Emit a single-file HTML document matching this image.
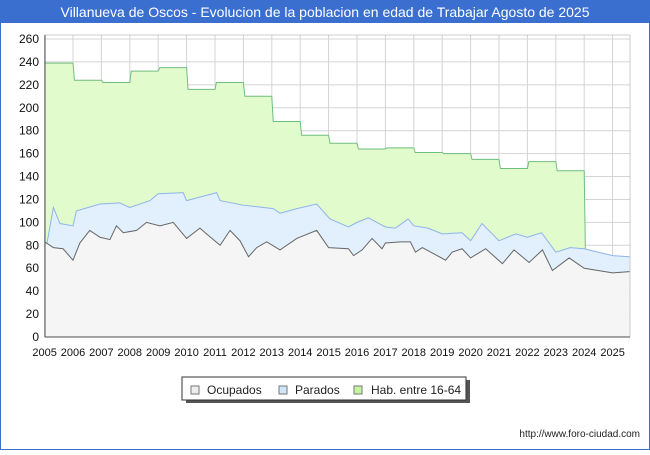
<!DOCTYPE html>
<html><head><meta charset="utf-8"><style>
body{margin:0;width:650px;height:450px;background:#fff;font-family:"Liberation Sans","DejaVu Sans",sans-serif;overflow:hidden}
</style></head><body>
<svg width="650" height="450" xmlns="http://www.w3.org/2000/svg" id="chart">
<rect x="0" y="0" width="650" height="450" fill="#fff" stroke="#3a6fd0" stroke-width="2"/>
<rect x="0" y="0" width="650" height="23" fill="#3a6fd0"/>
<text x="325" y="17" text-anchor="middle" font-size="14" fill="#fff">Villanueva de Oscos - Evolucion de la poblacion en edad de Trabajar Agosto de 2025</text>
<g id="grid"></g>
<g id="areas"></g>
<g id="axes"></g>
<g>
<rect x="186" y="380" width="284" height="23" fill="#555"/>
<rect x="182" y="377" width="284" height="23" fill="#fff" stroke="#333"/>
<rect x="191" y="386" width="8" height="8" fill="#eee" stroke="#777"/>
<text x="207" y="394" font-size="12" fill="#222">Ocupados</text>
<rect x="279" y="386" width="8" height="8" fill="#cfe5fb" stroke="#777"/>
<text x="295" y="394" font-size="12" fill="#222">Parados</text>
<rect x="354" y="386" width="8" height="8" fill="#c6f5a0" stroke="#777"/>
<text x="371" y="394" font-size="12" fill="#222">Hab. entre 16-64</text>
</g>
<text x="640" y="437" text-anchor="end" font-size="10" fill="#222">http://www.foro-ciudad.com</text>
</svg>
<script>
const habYears=[2005,2006,2007,2008,2009,2010,2011,2012,2013,2014,2015,2016,2017,2018,2019,2020,2021,2022,2023];
const habValues=[239,224,222,232,235,216,222,210,188,176,169,164,165,161,160,155,147,153,145];
const paradosT=[2005.0,2005.07,2005.31,2005.54,2006.0,2006.12,2006.95,2007.65,2008.0,2008.71,2009.0,2009.88,2010.0,2011.06,2011.18,2012.0,2013.05,2013.29,2013.88,2014.58,2015.05,2015.7,2016.0,2016.4,2017.0,2017.35,2017.8,2018.0,2018.5,2019.0,2019.7,2020.0,2020.4,2021.0,2021.6,2022.0,2022.5,2023.0,2023.5,2024.0,2025.0,2025.6];
const paradosV=[83,80,113,99,97,110,116,117,113,119,125,126,119,126,119,115,112,108,112,116,103,96,100,104,96,95,103,97,95,90,91,84,99,84,90,87,91,74,78,77,71,70];
const ocupT=[2005.0,2005.31,2005.65,2006.0,2006.24,2006.59,2006.95,2007.3,2007.53,2007.77,2008.24,2008.59,2009.06,2009.53,2010.0,2010.47,2010.7,2011.18,2011.53,2011.88,2012.18,2012.47,2012.82,2013.29,2013.88,2014.58,2015.0,2015.7,2015.88,2016.18,2016.53,2016.88,2017.0,2017.53,2017.88,2018.06,2018.3,2019.12,2019.35,2019.7,2020.0,2020.53,2021.12,2021.53,2022.06,2022.53,2022.88,2023.47,2024.0,2025.0,2025.6];
const ocupV=[83,78,77,67,82,93,87,85,97,91,93,100,97,100,86,95,90,80,93,84,70,78,83,76,86,93,78,77,71,76,86,77,82,83,83,74,78,67,74,77,69,77,64,76,65,76,58,69,60,56,57];
const yTicks=[0,20,40,60,80,100,120,140,160,180,200,220,240,260];
const xTicks=[2005,2006,2007,2008,2009,2010,2011,2012,2013,2014,2015,2016,2017,2018,2019,2020,2021,2022,2023,2024,2025];
const NS='http://www.w3.org/2000/svg';
const X0=45,X1=630,Y0=337,YT=35;
const x=t=>73+(t-2006)*28.4;
const y=v=>Y0-v*298/260;
function mk(tag,attrs,parent){const e=document.createElementNS(NS,tag);for(const k in attrs)e.setAttribute(k,attrs[k]);document.getElementById(parent).appendChild(e);return e;}
mk('rect',{x:X0,y:YT,width:X1-X0,height:Y0-YT,fill:'#fff'},'grid');
yTicks.forEach(v=>{const l=mk('line',{x1:X0,x2:X1,y1:y(v),y2:y(v),stroke:'#d4d4d4'},'grid');


const t=mk('text',{x:X0-6,y:y(v)+4,'text-anchor':'end','font-size':12,fill:'#111'},'axes');t.textContent=v;

});
xTicks.forEach(yr=>{const l=mk('line',{x1:x(yr),x2:x(yr),y1:YT,y2:Y0,stroke:'#d4d4d4'},'grid');


const t=mk('text',{x:x(yr),y:Y0+19,'text-anchor':'middle','font-size':11,fill:'#111'},'axes');t.textContent=yr;

});
// hab area
let hp=[];habYears.forEach((yr,i)=>{const s=i==0?yr:yr+0.05;hp.push([x(s),y(habValues[i])]);hp.push([x(yr+1),y(habValues[i])]);});
let hd='M'+x(habYears[0])+','+Y0+' '+hp.map(p=>'L'+p[0]+','+p[1]).join(' ')+' L'+x(2024.04)+','+Y0+' Z';
const ha=mk('path',{d:hd,fill:'#e2fbcc',stroke:'none'},'areas');


const hl=mk('path',{d:'M'+hp.map(p=>p[0]+','+p[1]).join(' L')+' L'+x(2024.04)+','+y(paradosV[paradosV.length-3]),fill:'none',stroke:'#6fbf7f','stroke-width':1},'areas');


function area(T,V,fill,stroke,name){const pts=T.map((t,i)=>x(t)+','+y(V[i]));
const a=mk('path',{d:'M'+x(T[0])+','+Y0+' L'+pts.join(' L')+' L'+x(T[T.length-1])+','+Y0+' Z',fill:fill},'areas');


const l=mk('polyline',{points:pts.join(' '),fill:'none',stroke:stroke,'stroke-width':1},'areas');

}
area(paradosT,paradosV,'#e2effd','#8eb4ea','parados');
area(ocupT,ocupV,'#f5f5f5','#666','ocupados');
mk('line',{x1:X0,x2:X0,y1:YT,y2:Y0,stroke:'#000'},'axes');
mk('line',{x1:X0,x2:X1,y1:Y0,y2:Y0,stroke:'#000'},'axes');
mk('rect',{x:X0,y:YT,width:X1-X0,height:Y0-YT,fill:'none',stroke:'#999','stroke-width':0.5},'axes');
</script>
</body></html>
